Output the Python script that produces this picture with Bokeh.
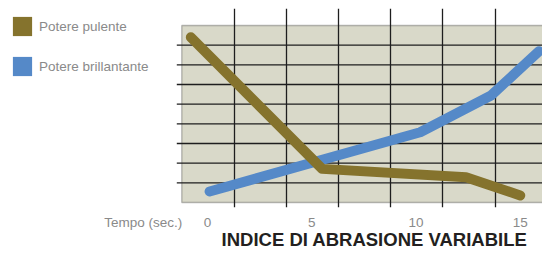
from bokeh.plotting import figure
from bokeh.models import (FixedTicker, BoxAnnotation, Legend, LegendItem,
                          ColumnDataSource, Title)
from bokeh.embed import file_html
from bokeh.resources import INLINE
import numpy as np

# ---- data ----
series_names = ["Potere pulente", "Potere brillantante"]
pulente_x = [-0.8, 5.5, 12.4, 15.0]
pulente_y = [84.0, 17.1, 12.8, 3.6]
brill_x = [0.1, 10.2, 13.6, 15.9]
brill_y = [5.6, 35.7, 54.4, 76.9]
x_tick_values = [0, 5, 10, 15]
x_tick_labels = ["0", "5", "10", "15"]
x_axis_caption = "Tempo (sec.)"
chart_title = "INDICE DI ABRASIONE VARIABILE"

# ---- style ----
BROWN = "#85732d"
BLUE = "#5589c8"
BOX_FILL = "#d9d9c9"
GRID = "#1e1e1e"
TEXT_GRAY = "#8a8a8a"
FONT = "Liberation Sans"

PX_X = 20.85            # pixels per x unit
PX_Y = 1.967            # pixels per y unit
box_left, box_bottom, box_top = -1.233, 0, 90
col_step, row_step = 2.504, 10
caption_pos = -3.08     # where the caption sits on the x scale
tick_ext = 5 / PX_X     # grid-line overhang left of the box

p = figure(width=542, height=257, output_backend="svg", toolbar_location=None,
           x_range=(-9.928, 16.067), y_range=(-2.54, 98.63),
           min_border_left=0, min_border_right=0, min_border_top=8,
           min_border_bottom=50)
p.outline_line_color = None
p.background_fill_color = "white"
p.border_fill_color = "white"

# background box
box = BoxAnnotation(left=box_left, right=30, bottom=box_bottom, top=box_top,
                    fill_color=BOX_FILL, fill_alpha=1, line_color=GRID,
                    line_width=1.3, level="image")
p.add_layout(box)

# vertical grid (bokeh grid)
p.xgrid.ticker = FixedTicker(ticks=list(box_left + col_step * np.arange(1, 7)))
p.xgrid.grid_line_color = GRID
p.xgrid.grid_line_width = 1.3
p.xgrid.grid_line_alpha = 1
p.ygrid.visible = False

# horizontal grid lines starting just left of the box
rows = list(np.arange(1, 9) * row_step)
p.segment(x0=[box_left - tick_ext] * len(rows), x1=[30] * len(rows),
          y0=rows, y1=rows, line_color=GRID, line_width=1.3, level="underlay")

# axes
p.yaxis.visible = False
xa = p.xaxis[0]
ticks = [caption_pos] + x_tick_values
xa.ticker = FixedTicker(ticks=ticks)
overrides = {v: s for v, s in zip(x_tick_values, x_tick_labels)}
overrides[caption_pos] = x_axis_caption
xa.major_label_overrides = overrides
xa.axis_line_color = None
xa.major_tick_line_color = None
xa.minor_tick_line_color = None
xa.major_tick_out = 0
xa.major_tick_in = 0
xa.major_label_standoff = 7
xa.major_label_text_font = FONT
xa.major_label_text_font_size = "13.5px"
xa.major_label_text_color = TEXT_GRAY

# lines
src_p = ColumnDataSource(dict(x=pulente_x, y=pulente_y))
src_b = ColumnDataSource(dict(x=brill_x, y=brill_y))
p.line("x", "y", source=src_b, line_color=BLUE, line_width=10,
       line_cap="round", line_join="round")
p.line("x", "y", source=src_p, line_color=BROWN, line_width=10,
       line_cap="round", line_join="round")

# legend with square swatches (swatch renderers hold no visible data)
nan = [np.nan]
sw1 = p.quad(left=nan, right=nan, top=nan, bottom=nan, fill_color=BROWN, line_color=None)
sw2 = p.quad(left=nan, right=nan, top=nan, bottom=nan, fill_color=BLUE, line_color=None)
legend = Legend(items=[LegendItem(label=series_names[0], renderers=[sw1]),
                       LegendItem(label=series_names[1], renderers=[sw2])],
                location=(10, 126), glyph_width=24, glyph_height=24,
                label_height=30, spacing=10, padding=0, margin=0,
                label_standoff=5,
                label_text_font=FONT, label_text_font_size="13.5px",
                label_text_color=TEXT_GRAY, label_text_baseline="bottom",
                background_fill_alpha=0, border_line_color=None)
p.add_layout(legend, "center")

# bottom title
p.add_layout(Title(text=chart_title, align="right", offset=15,
                   text_font=FONT, text_font_size="18.5px",
                   text_font_style="bold", text_color="#231f20",
                   vertical_align="top", standoff=-8), "below")

open("out.html", "w").write(file_html(p, INLINE))
